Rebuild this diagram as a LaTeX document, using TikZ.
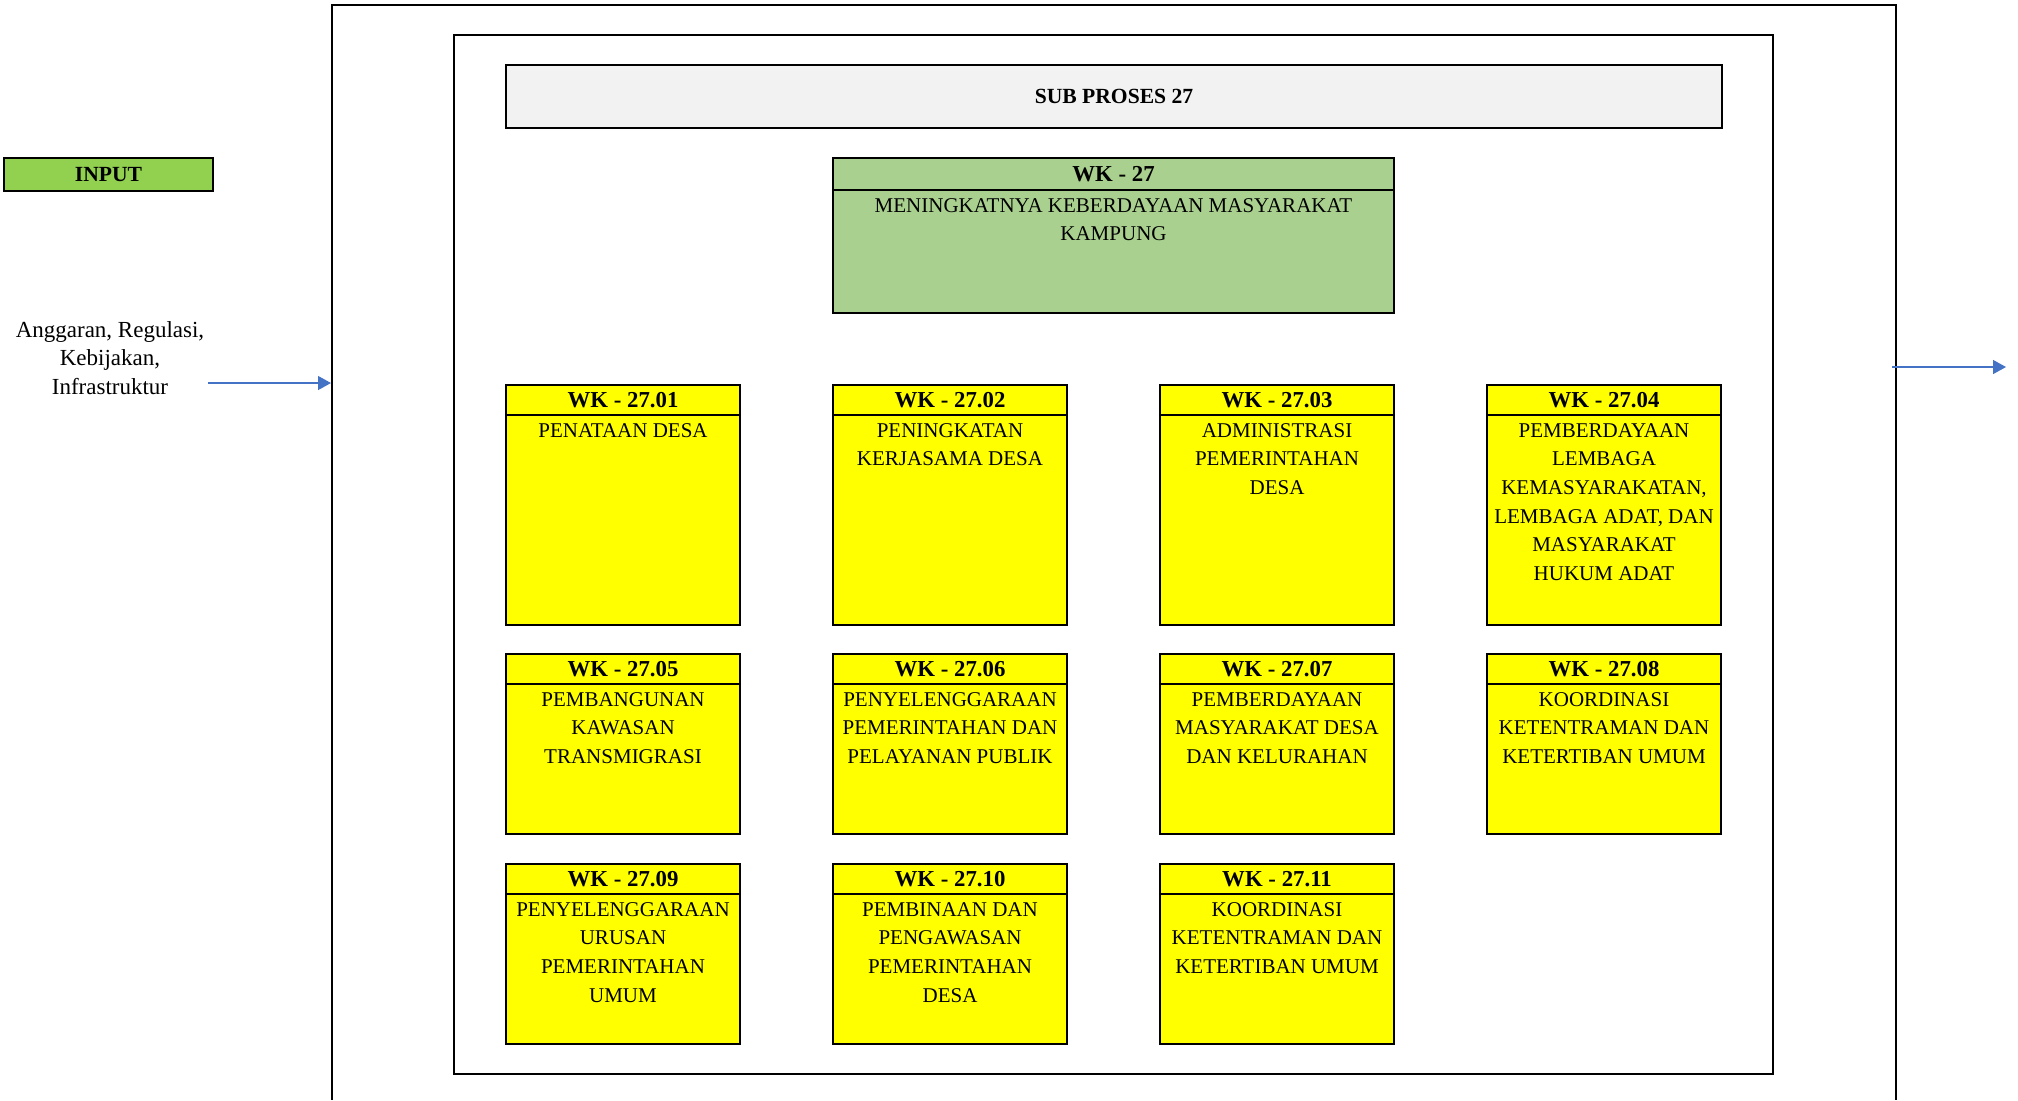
\documentclass[tikz,border=0pt]{standalone}
\usepackage{fontspec}
\setmainfont{Liberation Serif}
\usetikzlibrary{arrows.meta,positioning}

\definecolor{inputgreen}{HTML}{92D050}
\definecolor{goalgreen}{HTML}{A9D08E}
\definecolor{titlegray}{HTML}{F2F2F2}
\definecolor{wkyellow}{HTML}{FFFF00}
\definecolor{arrowblue}{HTML}{4472C4}

\begin{document}
\begin{tikzpicture}[
  x=0.5pt, y=-0.5pt,
  >={Triangle[length=6.5pt,width=7pt]},
  frame/.style    = {draw, line width=1.2pt},
  head/.style     = {
    draw, line width=1.2pt, fill=wkyellow, outer sep=0pt,
    minimum width=\boxw, minimum height=15pt, inner sep=0pt,
    font=\fontsize{11.4}{13}\selectfont\bfseries
  },
  body/.style     = {
    draw, line width=1.2pt, fill=wkyellow, outer sep=0pt,
    minimum width=\boxw, inner sep=0pt, anchor=north
  },
  tall/.style     = {body, minimum height=105pt},
  short/.style    = {body, minimum height=75pt},
  bodytext/.style = {anchor=north, align=center, inner sep=4pt,
    font=\fontsize{10.5}{14.3}\selectfont},
  flow/.style     = {->, draw=arrowblue, fill=arrowblue, line width=0.65pt}
]

% ---- constants ----
\def\boxw{117pt}     % width of every WK box
\useasboundingbox (0,0) rectangle (2018,1100);

% ---- frames ----
\draw[frame] (332,1100) |- (1896,5) -- (1896,1100);
\draw[frame] (454,35) rectangle (1773,1074);

\node[frame, fill=titlegray, minimum width=608pt, minimum height=31.5pt,
  font=\fontsize{10.8}{13}\selectfont\bfseries] (title) at (1114,96.5) {SUB PROSES 27};

% ---- input side ----
\node[frame, fill=inputgreen, minimum width=104.5pt, minimum height=16.5pt,
  inner sep=0pt, font=\fontsize{10.8}{13}\selectfont\bfseries] (input) at (108.5,174.5) {INPUT};
\node[align=center, font=\fontsize{11.5}{14.3}\selectfont] (sumber) at (110,358)
  {Anggaran, Regulasi,\\Kebijakan,\\Infrastruktur};

% ---- goal box ----
\node[head, fill=goalgreen, minimum width=280.5pt, minimum height=16pt] (wk27) at (1113.5,174) {WK - 27};
\node[body, fill=goalgreen, minimum width=280.5pt, minimum height=61.5pt] (b27) at (wk27.south) {};
\node[bodytext] (t27) at (b27.north) {MENINGKATNYA KEBERDAYAAN MASYARAKAT\\KAMPUNG};

% ---- row 1 ----
\node[head] (wk01) at (623,400) {WK - 27.01};
\node[tall] (b01) at (wk01.south) {};
\node[bodytext] (t01) at (b01.north) {PENATAAN DESA};

\node[head] (wk02) at (950,400) {WK - 27.02};
\node[tall] (b02) at (wk02.south) {};
\node[bodytext] (t02) at (b02.north) {PENINGKATAN\\KERJASAMA DESA};

\node[head] (wk03) at (1277,400) {WK - 27.03};
\node[tall] (b03) at (wk03.south) {};
\node[bodytext] (t03) at (b03.north) {ADMINISTRASI\\PEMERINTAHAN\\DESA};

\node[head] (wk04) at (1604,400) {WK - 27.04};
\node[tall] (b04) at (wk04.south) {};
\node[bodytext] (t04) at (b04.north) {PEMBERDAYAAN\\LEMBAGA\\KEMASYARAKATAN,\\LEMBAGA ADAT, DAN\\MASYARAKAT\\HUKUM ADAT};

% ---- row 2 ----
\node[head] (wk05) at (623,669) {WK - 27.05};
\node[short] (b05) at (wk05.south) {};
\node[bodytext] (t05) at (b05.north) {PEMBANGUNAN\\KAWASAN\\TRANSMIGRASI};

\node[head] (wk06) at (950,669) {WK - 27.06};
\node[short] (b06) at (wk06.south) {};
\node[bodytext] (t06) at (b06.north) {PENYELENGGARAAN\\PEMERINTAHAN DAN\\PELAYANAN PUBLIK};

\node[head] (wk07) at (1277,669) {WK - 27.07};
\node[short] (b07) at (wk07.south) {};
\node[bodytext] (t07) at (b07.north) {PEMBERDAYAAN\\MASYARAKAT DESA\\DAN KELURAHAN};

\node[head] (wk08) at (1604,669) {WK - 27.08};
\node[short] (b08) at (wk08.south) {};
\node[bodytext] (t08) at (b08.north) {KOORDINASI\\KETENTRAMAN DAN\\KETERTIBAN UMUM};

% ---- row 3 ----
\node[head] (wk09) at (623,879) {WK - 27.09};
\node[short] (b09) at (wk09.south) {};
\node[bodytext] (t09) at (b09.north) {PENYELENGGARAAN\\URUSAN\\PEMERINTAHAN\\UMUM};

\node[head] (wk10) at (950,879) {WK - 27.10};
\node[short] (b10) at (wk10.south) {};
\node[bodytext] (t10) at (b10.north) {PEMBINAAN DAN\\PENGAWASAN\\PEMERINTAHAN\\DESA};

\node[head] (wk11) at (1277,879) {WK - 27.11};
\node[short] (b11) at (wk11.south) {};
\node[bodytext] (t11) at (b11.north) {KOORDINASI\\KETENTRAMAN DAN\\KETERTIBAN UMUM};

% ---- arrows ----
\coordinate (inA) at (208,383);
\coordinate (inB) at (331,383);
\draw[flow] (inA) -- (inB);

\coordinate (outA) at (1892,367);
\coordinate (outB) at (2006,367);
\draw[flow] (outA) -- (outB);

\end{tikzpicture}
\end{document}
